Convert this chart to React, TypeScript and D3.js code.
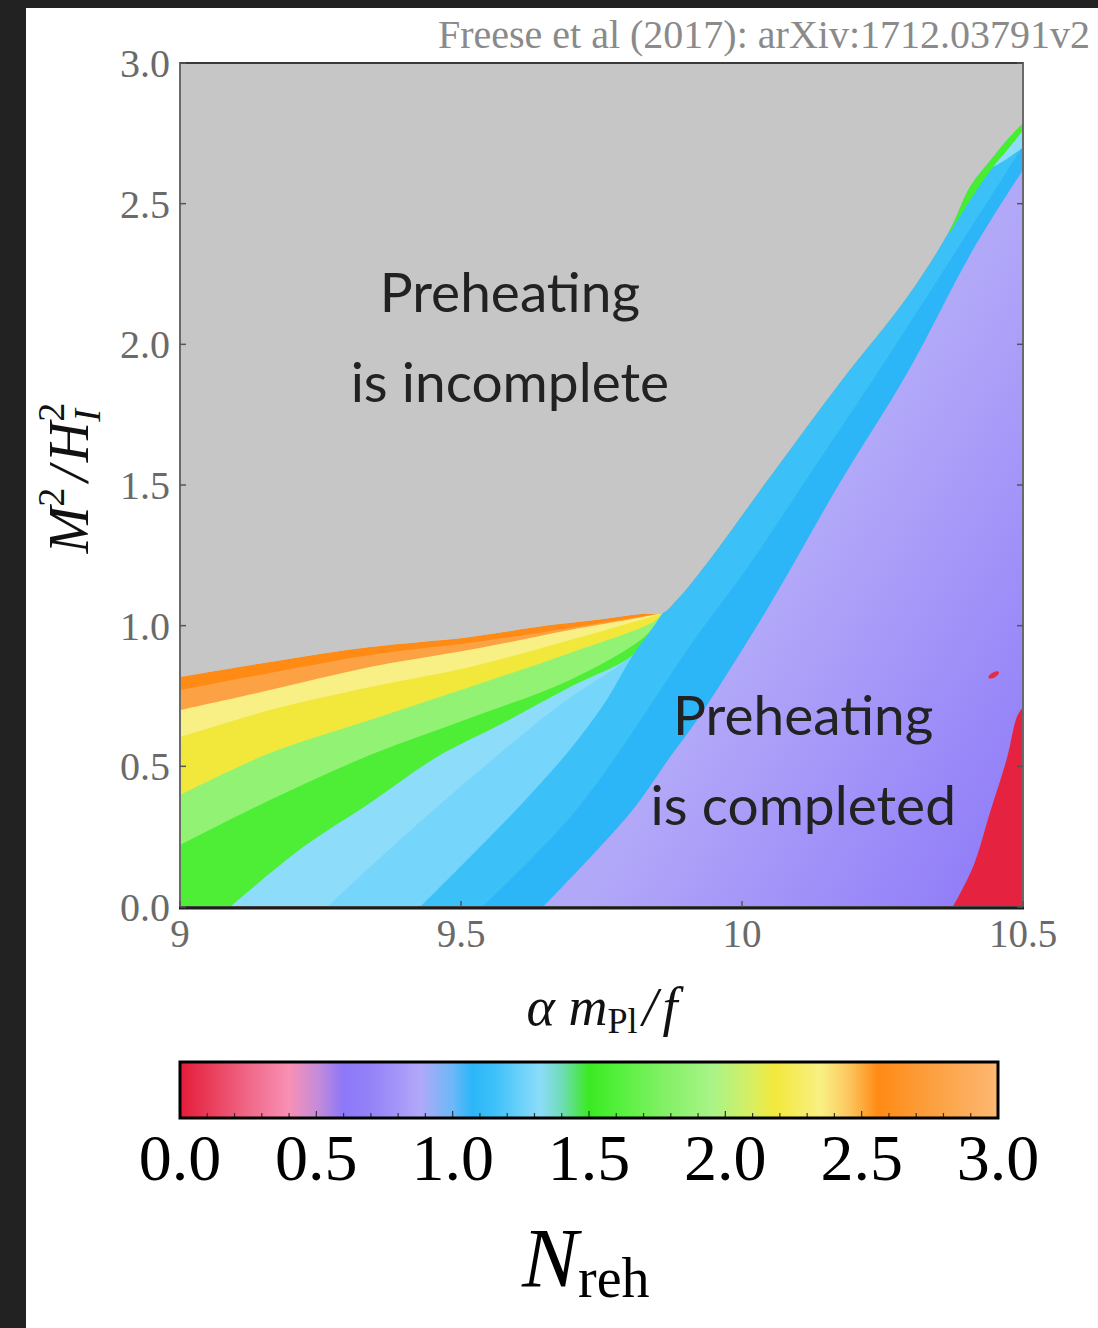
import React from "react";
import * as d3 from "d3";

type Pt = [number, number];

const xTickValues = [9, 9.5, 10, 10.5];
const xTickLabels = ["9", "9.5", "10", "10.5"];
const yTickValues = [0, 0.5, 1, 1.5, 2, 2.5, 3];
const yTickLabels = ["0.0", "0.5", "1.0", "1.5", "2.0", "2.5", "3.0"];
const barTickValues = [0, 0.5, 1, 1.5, 2, 2.5, 3];
const barTickLabels = ["0.0", "0.5", "1.0", "1.5", "2.0", "2.5", "3.0"];

// N_reh colour scale
const colorStopN = [0, 0.1, 0.25, 0.4, 0.5, 0.6, 0.7, 0.8, 0.88, 1.0, 1.07, 1.15, 1.25, 1.32, 1.4, 1.5, 1.62, 1.75, 1.95, 2.1, 2.18, 2.35, 2.45, 2.56, 2.7, 3.0];
const colorStopHex = ["#e41c3a", "#e83a56", "#f06888", "#f890b4", "#c88cd8", "#8c78f8", "#9482f8", "#a496f8", "#b2a8f8", "#6cb8f8", "#2cb6f8", "#3cc0f8", "#6cd2fa", "#8cdcfa", "#70dcb8", "#3aea22", "#58f040", "#7cf060", "#a8f488", "#d8ee60", "#f2e83c", "#f8f084", "#fcc860", "#ff8a14", "#fc9a34", "#fdb872"];

// region edges in (alpha mPl/f, M^2/H_I^2)
const grayEdge: Pt[] = [[9.0, 0.818], [9.16, 0.871], [9.338, 0.924], [9.516, 0.96], [9.658, 1.002], [9.753, 1.024], [9.824, 1.042], [9.859, 1.045], [9.884, 1.091], [9.938, 1.223], [10.055, 1.543], [10.174, 1.863], [10.294, 2.168], [10.37, 2.407], [10.406, 2.56], [10.447, 2.666], [10.472, 2.727], [10.5, 2.786]];
const orangeMidEdge: Pt[] = [[9.0, 0.771], [9.16, 0.832], [9.338, 0.896], [9.516, 0.939], [9.694, 0.992], [9.837, 1.038], [9.859, 1.045]];
const orangeYellowEdge: Pt[] = [[9.0, 0.7], [9.16, 0.771], [9.338, 0.853], [9.516, 0.914], [9.694, 0.985], [9.824, 1.031], [9.859, 1.045]];
const yellowMidEdge: Pt[] = [[9.0, 0.604], [9.16, 0.7], [9.338, 0.782], [9.516, 0.853], [9.694, 0.949], [9.837, 1.031], [9.859, 1.045]];
const yellowGreenEdge: Pt[] = [[9.0, 0.398], [9.16, 0.547], [9.338, 0.665], [9.516, 0.782], [9.694, 0.903], [9.842, 1.013], [9.859, 1.045]];
const greenMidEdge: Pt[] = [[9.0, 0.22], [9.16, 0.38], [9.338, 0.54], [9.516, 0.672], [9.694, 0.807], [9.828, 0.963], [9.859, 1.045]];
const greenLightBlueEdge: Pt[] = [[9.089, 0], [9.219, 0.213], [9.338, 0.37], [9.457, 0.533], [9.575, 0.654], [9.694, 0.782], [9.806, 0.896], [9.835, 0.975], [9.859, 1.045]];
const lightBlueMidEdge: Pt[] = [[9.262, 0], [9.391, 0.238], [9.534, 0.487], [9.676, 0.718], [9.783, 0.86], [9.806, 0.896]];
const lightBlueBlueEdge: Pt[] = [[9.427, 0], [9.516, 0.178], [9.605, 0.36], [9.694, 0.56], [9.757, 0.73], [9.806, 0.896], [9.835, 0.975], [9.859, 1.045]];
const blueMidEdge: Pt[] = [[9.537, 0], [9.705, 0.345], [9.915, 0.949], [10.014, 1.219], [10.121, 1.539], [10.228, 1.859], [10.381, 2.332], [10.5, 2.705]];
const blueSliverEdge: Pt[] = [[10.447, 2.631], [10.472, 2.66], [10.5, 2.7]];
const greenStripEdge: Pt[] = [[10.37, 2.396], [10.406, 2.513], [10.447, 2.631], [10.472, 2.691], [10.5, 2.76]];
const bluePurpleEdge: Pt[] = [[9.646, 0], [9.801, 0.334], [9.872, 0.533], [9.92, 0.665], [10.044, 1.056], [10.174, 1.507], [10.294, 1.898], [10.411, 2.336], [10.5, 2.62]];
const redEdge: Pt[] = [[10.375, 0], [10.411, 0.142], [10.441, 0.334], [10.472, 0.533], [10.489, 0.675], [10.5, 0.711]];
const redSpot: Pt = [10.448, 0.825];

// purple area shades from N = 0.88 at the blue edge to N = 0.62 towards the red corner
const purpleLevels = [0.88, 0.62];
const purpleAxis: Pt[] = [[9.92, 0.665], [10.459, 0.0]];

// each layer fills the side of its edge with one N_reh level
const layers = [
  { edge: grayEdge, n: 2.56, side: "below" },
  { edge: orangeMidEdge, n: 2.78, side: "below" },
  { edge: orangeYellowEdge, n: 2.35, side: "below" },
  { edge: yellowMidEdge, n: 2.18, side: "below" },
  { edge: yellowGreenEdge, n: 1.85, side: "below" },
  { edge: greenMidEdge, n: 1.58, side: "below" },
  { edge: greenLightBlueEdge, n: 1.32, side: "below" },
  { edge: lightBlueMidEdge, n: 1.27, side: "below" },
  { edge: lightBlueBlueEdge, n: 1.15, side: "right" },
  { edge: blueMidEdge, n: 1.07, side: "below" },
  { edge: blueSliverEdge, n: 1.32, side: "above" },
  { edge: greenStripEdge, n: 1.55, side: "above" },
  { edge: bluePurpleEdge, n: -1, side: "below" },
  { edge: redEdge, n: 0.02, side: "below" },
];

const serif = "'Liberation Serif', 'Times New Roman', serif";
const sans = "Lato, 'Open Sans', sans-serif";

export default function App() {
  const x = d3.scaleLinear().domain([9, 10.5]).range([180, 1023]);
  const y = d3.scaleLinear().domain([0, 3]).range([907, 63]);
  const bar = d3.scaleLinear().domain([0, 3]).range([180, 998]);
  const color = d3
    .scaleLinear<string>()
    .domain(colorStopN)
    .range(colorStopHex)
    .interpolate(d3.interpolateRgb);

  const edgeLine = d3
    .line<Pt>()
    .x((d) => x(d[0]))
    .y((d) => y(d[1]))
    .curve(d3.curveCatmullRom.alpha(0.5));

  const [x0, x1] = x.domain();
  const [y0, y1] = y.domain();

  const layerPath = (edge: Pt[], side: string) => {
    const first = edge[0];
    const last = edge[edge.length - 1];
    let close: Pt[];
    if (side === "below") close = [[x1, last[1]], [x1, y0], [first[0], y0]];
    else if (side === "right") close = [[last[0], y1], [x1, y1], [x1, y0], [first[0], y0]];
    else close = [[x1, y1], [first[0], y1]];
    return (
      edgeLine(edge) +
      close.map((p) => `L${x(p[0])},${y(p[1])}`).join("") +
      "Z"
    );
  };

  const barMinor = d3.range(0, 3.0001, 0.1);

  return (
    <svg
      width={1098}
      height={1328}
      style={{ position: "absolute", left: 0, top: 0, display: "block" }}
    >
      <defs>
        <clipPath id="plotClip">
          <rect x={x(x0)} y={y(y1)} width={x(x1) - x(x0)} height={y(y0) - y(y1)} />
        </clipPath>
        <clipPath id="underGray">
          <path d={layerPath(grayEdge, "below")} />
        </clipPath>
        <linearGradient
          id="purpleGrad"
          gradientUnits="userSpaceOnUse"
          x1={x(purpleAxis[0][0])}
          y1={y(purpleAxis[0][1])}
          x2={x(purpleAxis[1][0])}
          y2={y(purpleAxis[1][1])}
        >
          <stop offset="0" stopColor={color(purpleLevels[0])} />
          <stop offset="1" stopColor={color(purpleLevels[1])} />
        </linearGradient>
        <linearGradient id="barGrad" x1="0" y1="0" x2="1" y2="0">
          {colorStopN.map((n, i) => (
            <stop key={i} offset={n / 3} stopColor={colorStopHex[i]} />
          ))}
        </linearGradient>
      </defs>

      <rect x={0} y={0} width={1098} height={1328} fill="#ffffff" />
      <rect x={0} y={0} width={1098} height={8} fill="#222222" />
      <rect x={0} y={0} width={26} height={1328} fill="#222222" />

      {/* heat map */}
      <g clipPath="url(#plotClip)">
        <rect x={x(x0)} y={y(y1)} width={x(x1) - x(x0)} height={y(y0) - y(y1)} fill="#c6c6c6" />
        <g clipPath="url(#underGray)">
          {layers.map((l, i) => (
            <path
              key={i}
              d={layerPath(l.edge, l.side)}
              fill={l.n < 0 ? "url(#purpleGrad)" : color(l.n)}
            />
          ))}
          <ellipse
            cx={x(redSpot[0])}
            cy={y(redSpot[1])}
            rx={6}
            ry={2.6}
            transform={`rotate(-30 ${x(redSpot[0])} ${y(redSpot[1])})`}
            fill={color(0.05)}
          />
        </g>
      </g>

      {/* frame */}
      <rect
        x={x(x0)}
        y={y(y1)}
        width={x(x1) - x(x0)}
        height={y(y0) - y(y1)}
        fill="none"
        stroke="#6a6a6a"
        strokeWidth={2}
      />
      <line x1={x(x0)} x2={x(x1)} y1={y(y1)} y2={y(y1)} stroke="#3a3a3a" strokeWidth={2} />
      <line x1={x(x0) - 1} x2={x(x1) + 1} y1={y(y0) + 1} y2={y(y0) + 1} stroke="#1c1c1c" strokeWidth={3} />

      {yTickValues.map((v) => (
        <g key={"yt" + v}>
          <line x1={x(x0)} x2={x(x0) + 6} y1={y(v)} y2={y(v)} stroke="#555" strokeWidth={1.5} />
          <line x1={x(x1)} x2={x(x1) - 6} y1={y(v)} y2={y(v)} stroke="#555" strokeWidth={1.5} />
        </g>
      ))}
      {xTickValues.map((v) => (
        <line key={"xt" + v} x1={x(v)} x2={x(v)} y1={y(y0)} y2={y(y0) - 6} stroke="#555" strokeWidth={1.5} />
      ))}

      {yTickValues.map((v, i) => (
        <text
          key={"yl" + v}
          x={170}
          y={y(v) + 14}
          textAnchor="end"
          fontFamily={serif}
          fontSize={40}
          fill="#6a6a6a"
        >
          {yTickLabels[i]}
        </text>
      ))}
      {xTickValues.map((v, i) => (
        <text
          key={"xl" + v}
          x={x(v)}
          y={947}
          textAnchor="middle"
          fontFamily={serif}
          fontSize={39}
          fill="#6a6a6a"
        >
          {xTickLabels[i]}
        </text>
      ))}

      {/* title */}
      <text x={1090} y={48} textAnchor="end" fontFamily={serif} fontSize={40} fill="#8a8a8a">
        Freese et al (2017): arXiv:1712.03791v2
      </text>

      {/* annotations */}
      <g fontFamily={sans} fontSize={55} fill="#222222" textAnchor="middle">
        <text x={x(9.587)} y={y(2.115)}>Preheating</text>
        <text x={x(9.587)} y={y(1.795)}>is incomplete</text>
        <text x={x(10.109)} y={y(0.611)}>Preheating</text>
        <text x={x(10.109)} y={y(0.292)}>is completed</text>
      </g>

      {/* axis titles */}
      <text x={602} y={1025} textAnchor="middle" fontFamily={serif} fontSize={54} fontStyle="italic" fill="#111">
        α m
        <tspan fontSize={36} fontStyle="normal" dy={8}>Pl</tspan>
        <tspan dy={-8} dx={5}>/</tspan>
        <tspan dx={5}>f</tspan>
      </text>
      <text
        transform="translate(88,478) rotate(-90)"
        textAnchor="middle"
        fontFamily={serif}
        fontSize={56}
        fontStyle="italic"
        fill="#111"
      >
        M
        <tspan fontSize={38} fontStyle="normal" dy={-24}>2</tspan>
        <tspan dy={24} dx={6}>/</tspan>
        <tspan dx={4}>H</tspan>
        <tspan fontSize={38} fontStyle="normal" dy={-24}>2</tspan>
        <tspan fontSize={38} dx={-19} dy={36}>I</tspan>
      </text>

      {/* colour bar */}
      <rect x={bar(0)} y={1062} width={bar(3) - bar(0)} height={56} fill="url(#barGrad)" />
      {barMinor.map((v, i) => (
        <line
          key={"bm" + i}
          x1={bar(v)}
          x2={bar(v)}
          y1={1117}
          y2={i % 5 === 0 ? 1111 : 1113}
          stroke="#333"
          strokeWidth={1.2}
        />
      ))}
      <rect x={bar(0)} y={1062} width={bar(3) - bar(0)} height={56} fill="none" stroke="#000" strokeWidth={3} />
      {barTickValues.map((v, i) => (
        <text
          key={"bl" + v}
          x={bar(v)}
          y={1180}
          textAnchor="middle"
          fontFamily={serif}
          fontSize={66}
          fill="#000"
        >
          {barTickLabels[i]}
        </text>
      ))}
      <text x={522} y={1287} fontFamily={serif} fill="#000">
        <tspan fontSize={84} fontStyle="italic">N</tspan>
        <tspan fontSize={56} dy={10}>reh</tspan>
      </text>
    </svg>
  );
}
